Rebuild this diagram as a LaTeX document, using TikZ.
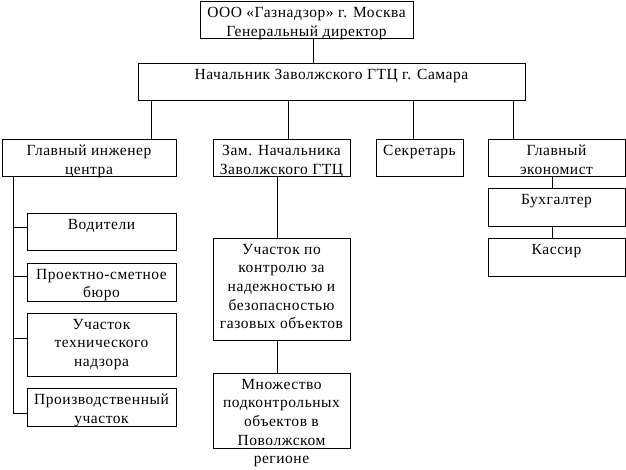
\documentclass[tikz,border=0pt]{standalone}
\usepackage{fontspec}
\setmainfont[LetterSpace=3.5]{Liberation Serif}
\begin{document}
\begin{tikzpicture}[x=1pt,y=-1pt,
  box/.style={draw, line width=0.9pt, inner sep=0pt, outer sep=0pt, anchor=north west},
  lbl/.style={anchor=north, inner sep=0pt, align=center, yshift=-6pt,
    font=\fontsize{15.5}{18.6}\selectfont},
  conn/.style={line width=0.9pt}]
\useasboundingbox (0,0) rectangle (626,470);
% boxes
\node[box, minimum width=213pt, minimum height=37pt] (top) at (200,1) {};
\node[box, minimum width=387pt, minimum height=37pt] (nach) at (138,63) {};
\node[box, minimum width=174pt, minimum height=37pt] (gi) at (2,139) {};
\node[box, minimum width=137pt, minimum height=37pt] (zam) at (213,139) {};
\node[box, minimum width=87pt, minimum height=37pt] (sec) at (376,139) {};
\node[box, minimum width=137pt, minimum height=37pt] (ge) at (488,139) {};
\node[box, minimum width=149pt, minimum height=37pt] (vod) at (27,213) {};
\node[box, minimum width=149pt, minimum height=38pt] (psb) at (27,263) {};
\node[box, minimum width=149pt, minimum height=63pt] (utn) at (27,313) {};
\node[box, minimum width=149pt, minimum height=38pt] (pu) at (27,388) {};
\node[box, minimum width=137pt, minimum height=102pt] (uk) at (213,238) {};
\node[box, minimum width=137pt, minimum height=75pt] (mn) at (213,373) {};
\node[box, minimum width=137pt, minimum height=38pt] (bux) at (488,188) {};
\node[box, minimum width=137pt, minimum height=38pt] (kas) at (488,238) {};
% labels
\node[lbl] (ttop) at (top.north) {ООО «Газнадзор» г. Москва\\Генеральный директор};
\node[lbl] (tnach) at (nach.north) {Начальник Заволжского ГТЦ г. Самара};
\node[lbl] (tgi) at (gi.north) {Главный инженер\\центра};
\node[lbl] (tzam) at (zam.north) {Зам. Начальника\\Заволжского ГТЦ};
\node[lbl] (tsec) at (sec.north) {Секретарь};
\node[lbl] (tge) at (ge.north) {Главный\\экономист};
\node[lbl] (tvod) at (vod.north) {Водители};
\node[lbl] (tpsb) at (psb.north) {Проектно-сметное\\бюро};
\node[lbl] (tutn) at (utn.north) {Участок\\технического\\надзора};
\node[lbl] (tpu) at (pu.north) {Производственный\\участок};
\node[lbl] (tuk) at (uk.north) {Участок по\\контролю за\\надежностью и\\безопасностью\\газовых объектов};
\node[lbl] (tmn) at (mn.north) {Множество\\подконтрольных\\объектов в\\Поволжском\\регионе};
\node[lbl] (tbux) at (bux.north) {Бухгалтер};
\node[lbl] (tkas) at (kas.north) {Кассир};
% connector coordinates
\coordinate (xa) at (313,0);
\coordinate (x1) at (151.5,0);
\coordinate (x2) at (288.5,0);
\coordinate (x3) at (413.5,0);
\coordinate (x4) at (513.5,0);
\coordinate (xz) at (277,0);
\coordinate (xe) at (552,0);
\coordinate (cb) at (13.5,413);
\coordinate (s1) at (0,227);
\coordinate (s2) at (0,276);
\coordinate (s3) at (0,338);
% connectors
\draw[conn] (top.south -| xa) -- (nach.north -| xa);
\draw[conn] (nach.south -| x1) -- (gi.north -| x1);
\draw[conn] (nach.south -| x2) -- (zam.north -| x2);
\draw[conn] (nach.south -| x3) -- (sec.north -| x3);
\draw[conn] (nach.south -| x4) -- (ge.north -| x4);
\draw[conn] (zam.south -| xz) -- (uk.north -| xz);
\draw[conn] (uk.south -| xz) -- (mn.north -| xz);
\draw[conn] (ge.south -| xe) -- (bux.north -| xe);
\draw[conn] (bux.south -| xe) -- (kas.north -| xe);
\draw[conn] (gi.south -| cb) -- (cb) -- (pu.west |- cb);
\draw[conn] (cb |- s1) -- (vod.west |- s1);
\draw[conn] (cb |- s2) -- (psb.west |- s2);
\draw[conn] (cb |- s3) -- (utn.west |- s3);
\end{tikzpicture}
\end{document}
